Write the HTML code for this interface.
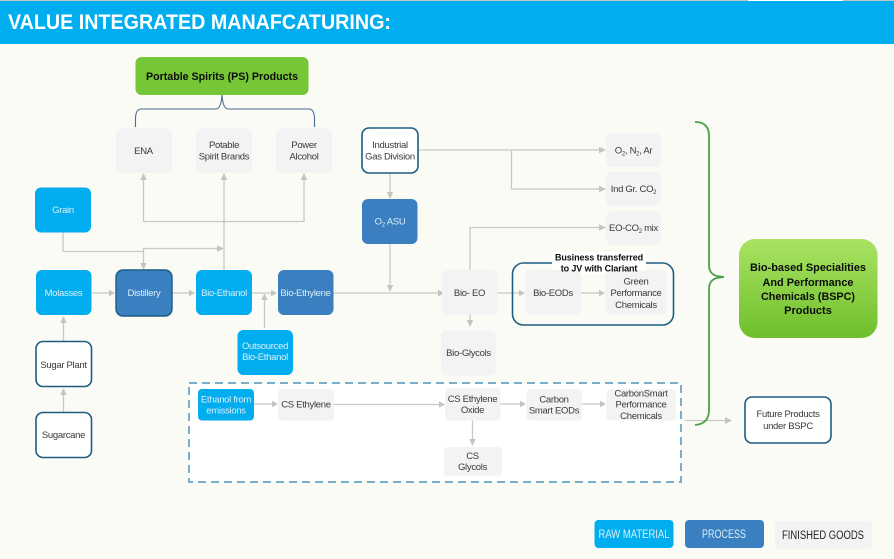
<!DOCTYPE html>
<html><head><meta charset="utf-8">
<style>
html,body{margin:0;padding:0;background:#FBFBF6}
svg{display:block;filter:blur(.35px)}
text{font-family:"Liberation Sans",sans-serif;text-anchor:middle;font-size:9.5px;letter-spacing:-.3px;fill:#3a3a3a}
.w{fill:#d8eefa}
.b{font-weight:bold;fill:#0c0c0c}
.l{stroke:#C8C8C4;stroke-width:1.3;fill:none}
.g{fill:#F3F3F4}
.r{fill:#00ADEF}
.p{fill:#3A7FBF}
.o{fill:#fff;stroke:#1B5E82;stroke-width:1.6}
.a{fill:#C4C4C0}
</style></head>
<body>
<svg width="894" height="559" viewBox="0 0 894 559" xmlns="http://www.w3.org/2000/svg">
<defs><linearGradient id="gr" x1="0" y1="0" x2="0" y2="1"><stop offset="0" stop-color="#A9E363"/><stop offset="1" stop-color="#6FBF2B"/></linearGradient></defs>
<rect width="894" height="559" fill="#FBFBF6"/>
<rect width="894" height="1" fill="#BFC4C6"/>
<rect x="748" width="95" height="1" fill="#fff"/>
<rect y="1" width="894" height="43" fill="#00ADEF"/>
<text x="8" y="29" textLength="383" lengthAdjust="spacingAndGlyphs" style="text-anchor:start;font-size:21px;font-weight:bold;fill:#fff;letter-spacing:0">VALUE INTEGRATED MANAFCATURING:</text>

<!-- dashed -->
<rect x="189" y="383" width="492" height="99" fill="#fff" stroke="#7AAFCB" stroke-width="2" stroke-dasharray="8 5"/>

<!-- connectors -->
<path class="l" d="M63 232V251.500H143.500M143.500 266V248.500H218"/>
<path class="l" d="M143.500 180V221.500H304V180M224 270V180"/>
<path class="l" d="M418 150H602M511.500 150V189H602M390 174V193M390 244V287M333 293H438M470 270V227.500H602M470 315V325"/>
<path class="l" d="M92 293H110M172 293H190M252 293H272M264.500 328V299M63.500 341V321M63.500 412V393"/>
<path class="l" d="M497 293H520M581 293H600"/>
<path class="l" d="M254 404H273M334 404.500H440M500 404H521M582 404H601M472.500 420V441M685 420.500H727"/>
<g class="a">
<path d="M143.500 173l-3.200 7h6.400zM224 173l-3.200 7h6.400zM304 173l-3.200 7h6.400z"/>
<path d="M143.500 270l-3.200-7h6.400zM224 248.500l-7-3.200v6.400z"/>
<path d="M390 199l-3.200-7h6.400zM390 292l-3.200-7h6.400zM445 293l-7-3.200v6.400z"/>
<path d="M606 150l-7-3.200v6.400zM606 189l-7-3.200v6.400zM606 227.500l-7-3.200v6.400z"/>
<path d="M115 293l-6-3.200v6.400zM195 293l-6-3.200v6.400zM277 293l-6-3.200v6.400zM264.500 293l-3.200 7h6.400zM63.500 316l-3.200 7h6.400zM63.500 388l-3.200 7h6.400z"/>
<path d="M525 293l-6-3.200v6.400zM605 293l-6-3.200v6.400zM470 327l-3.200-7h6.400z"/>
<path d="M278 404l-6-3.200v6.400zM445 404.500l-6-3.200v6.400zM526 404l-6-3.200v6.400zM606 404l-6-3.200v6.400zM472.500 446l-3.200-7h6.400zM732 420.500l-7-3.500v7z"/>
</g>

<!-- PS bracket -->
<path d="M135.500 127V118Q136 109 141 109H216Q221 109 222 95Q223 109 228 109H309Q314 109 314.500 118V127" fill="none" stroke="#4A6A94" stroke-width="1.1"/>

<!-- JV -->
<rect x="512.500" y="263" width="161" height="62" rx="11" fill="none" stroke="#1B5E82" stroke-width="1.6"/>
<rect x="552" y="252" width="94" height="22" fill="#fff"/>

<!-- Green brace -->
<path d="M695 122Q709 122 709 136V265Q709 274 717 276L724 277L717 278Q709 280 709 289V410Q709 424 695 425" fill="none" stroke="#4FA14A" stroke-width="1.8"/>

<!-- nodes -->
<rect x="135.500" y="57" width="173" height="38" rx="6" fill="#76C635"/>
<rect class="g" x="116" y="128" width="56" height="45" rx="7"/>
<rect class="g" x="196" y="128" width="56" height="45" rx="7"/>
<rect class="g" x="276" y="128" width="56" height="45" rx="7"/>
<rect class="o" x="362" y="128" width="56" height="45" rx="7"/>
<rect class="r" x="35" y="187.500" width="56" height="45" rx="6"/>
<rect class="p" x="362" y="199" width="55.500" height="45" rx="6"/>
<rect class="r" x="36" y="270" width="55.500" height="45" rx="6"/>
<rect x="116" y="270" width="56" height="46" rx="7" fill="#3A7FBF" stroke="#1B5E82" stroke-width="1.4"/>
<rect class="r" x="196" y="270" width="56" height="45" rx="6"/>
<rect class="p" x="278" y="270" width="55.500" height="45" rx="6"/>
<rect class="g" x="442" y="270" width="55.500" height="45" rx="6"/>
<rect class="r" x="237.500" y="330" width="55.500" height="45" rx="6"/>
<rect class="o" x="36" y="341.500" width="55.500" height="45" rx="7"/>
<rect class="o" x="36" y="412.500" width="55.500" height="45" rx="7"/>
<rect class="g" x="441" y="330.500" width="55.500" height="45" rx="6"/>
<rect class="g" x="525" y="270" width="56" height="45" rx="6"/>
<rect class="g" x="605" y="270" width="62" height="45" rx="6"/>
<rect class="g" x="606" y="133" width="55.500" height="34" rx="6"/>
<rect class="g" x="606" y="172" width="55.500" height="34" rx="6"/>
<rect class="g" x="606" y="211" width="55.500" height="34" rx="6"/>
<rect class="r" x="198" y="389" width="56" height="31.500" rx="4"/>
<rect class="g" x="278" y="389" width="56" height="31.500" rx="4"/>
<rect class="g" x="445" y="388" width="55.500" height="32.500" rx="4"/>
<rect class="g" x="526.500" y="389" width="55.500" height="31.500" rx="4"/>
<rect class="g" x="606.500" y="389" width="69.500" height="31.500" rx="4"/>
<rect class="g" x="444" y="447" width="58" height="29" rx="4"/>
<rect x="739" y="239" width="138.500" height="99" rx="16" fill="url(#gr)"/>
<rect class="o" x="745" y="397" width="86" height="46" rx="7"/>
<rect class="r" x="594.500" y="520" width="79" height="28" rx="4"/>
<rect class="p" x="685" y="520" width="79" height="28" rx="4"/>
<rect class="g" x="775" y="521" width="97" height="28" rx="4"/>

<!-- labels -->
<text class="b" x="222" y="80" style="font-size:11px;letter-spacing:0" textLength="152" lengthAdjust="spacingAndGlyphs">Portable Spirits (PS) Products</text>
<text x="143.500" y="154">ENA</text>
<text x="224" y="148">Potable</text><text x="224" y="159.500">Spirit Brands</text>
<text x="304" y="148">Power</text><text x="304" y="159.500">Alcohol</text>
<text x="390" y="148">Industrial</text><text x="390" y="159.500">Gas Division</text>
<text class="w" x="63" y="213">Grain</text>
<text class="w" x="390" y="224.500">O<tspan dy="2" font-size="6.500">2</tspan><tspan dy="-2"> ASU</tspan></text>
<text class="w" x="63.500" y="296">Molasses</text>
<text class="w" x="144" y="296">Distillery</text>
<text class="w" x="224" y="296">Bio-Ethanol</text>
<text class="w" x="305.500" y="296">Bio-Ethylene</text>
<text x="469.500" y="296">Bio- EO</text>
<text class="w" x="265" y="349">Outsourced</text><text class="w" x="265" y="360">Bio-Ethanol</text>
<text x="63.500" y="368">Sugar Plant</text>
<text x="63.500" y="438">Sugarcane</text>
<text x="468.500" y="356">Bio-Glycols</text>
<text x="553" y="296">Bio-EODs</text>
<text x="636" y="284.500">Green</text><text x="636" y="296">Performance</text><text x="636" y="308">Chemicals</text>
<text class="b" x="599" y="260.500" style="font-size:9px;letter-spacing:-.1px">Business transferred</text>
<text class="b" x="599" y="271.500" style="font-size:9px;letter-spacing:-.1px">to JV with Clariant</text>
<text x="633.500" y="153.500">O<tspan dy="2" font-size="6">2</tspan><tspan dy="-2">, N</tspan><tspan dy="2" font-size="6">2</tspan><tspan dy="-2">, Ar</tspan></text>
<text x="633.500" y="192">Ind Gr. CO<tspan dy="2" font-size="6">2</tspan></text>
<text x="633.500" y="231">EO-CO<tspan dy="2" font-size="6">2</tspan><tspan dy="-2"> mix</tspan></text>
<text class="w" x="226" y="402.500">Ethanol from</text><text class="w" x="226" y="413.500">emissions</text>
<text x="306" y="407.500">CS Ethylene</text>
<text x="472.500" y="402">CS Ethylene</text><text x="472.500" y="413">Oxide</text>
<text x="554" y="402.500">Carbon</text><text x="554" y="413.500">Smart EODs</text>
<text x="641" y="396.500">CarbonSmart</text><text x="641" y="407.500">Performance</text><text x="641" y="419">Chemicals</text>
<text x="472.500" y="459">CS</text><text x="472.500" y="470">Glycols</text>
<text class="b" x="808" y="271" style="font-size:11px;letter-spacing:0" textLength="116" lengthAdjust="spacingAndGlyphs">Bio-based Specialities</text>
<text class="b" x="808" y="286" style="font-size:11px;letter-spacing:0" textLength="91" lengthAdjust="spacingAndGlyphs">And Performance</text>
<text class="b" x="808" y="300" style="font-size:11px;letter-spacing:0" textLength="94" lengthAdjust="spacingAndGlyphs">Chemicals (BSPC)</text>
<text class="b" x="808" y="314" style="font-size:11px;letter-spacing:0">Products</text>
<text x="788" y="417">Future Products</text><text x="788" y="429">under BSPC</text>
<text class="w" x="634" y="538" style="font-size:11.500px;letter-spacing:0" textLength="71" lengthAdjust="spacingAndGlyphs">RAW MATERIAL</text>
<text class="w" x="724" y="538" style="font-size:11.500px;letter-spacing:0" textLength="44" lengthAdjust="spacingAndGlyphs">PROCESS</text>
<text x="823" y="539" style="font-size:11.500px;fill:#222;letter-spacing:0" textLength="82" lengthAdjust="spacingAndGlyphs">FINISHED GOODS</text>
</svg>
</body></html>
